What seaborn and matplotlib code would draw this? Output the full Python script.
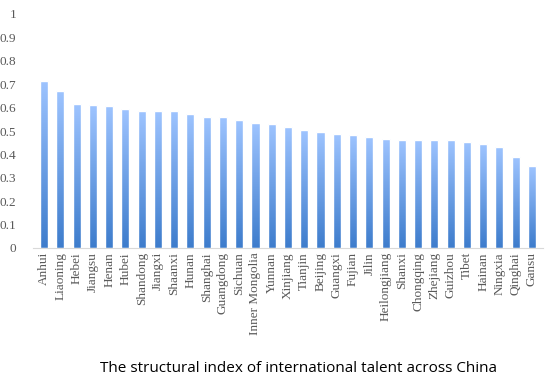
import matplotlib
matplotlib.use("Agg")
import matplotlib.pyplot as plt
import seaborn as sns
import numpy as np
import pandas as pd

provinces = ["Anhui", "Liaoning", "Hebei", "Jiangsu", "Henan", "Hubei", "Shandong",
             "Jiangxi", "Shaanxi", "Hunan", "Shanghai", "Guangdong", "Sichuan",
             "Inner Mongolia", "Yunnan", "Xinjiang", "Tianjin", "Beijing", "Guangxi",
             "Fujian", "Jilin", "Heilongjiang", "Shanxi", "Chongqing", "Zhejiang",
             "Guizhou", "Tibet", "Hainan", "Ningxia", "Qinghai", "Gansu"]
index_values = [0.714, 0.671, 0.615, 0.611, 0.607, 0.594, 0.585,
                0.585, 0.585, 0.573, 0.560, 0.560, 0.547,
                0.534, 0.530, 0.517, 0.504, 0.496, 0.487,
                0.483, 0.474, 0.466, 0.462, 0.462, 0.462,
                0.462, 0.453, 0.444, 0.432, 0.389, 0.350]
y_ticks = [0, 0.1, 0.2, 0.3, 0.4, 0.5, 0.6, 0.7, 0.8, 0.9, 1]

df = pd.DataFrame({"province": provinces, "value": index_values})

sns.set_style("white")
fig = plt.figure(figsize=(5.53, 3.92), dpi=100)
ax = fig.add_axes([33 / 553, 144 / 392, 510 / 553, 234 / 392])

sns.barplot(data=df, x="province", y="value", color="#6fa0e8", width=0.5, ax=ax,
            saturation=1)

# vertical gradient fill for each bar
grad = np.linspace(0, 1, 256).reshape(-1, 1)
cmap = matplotlib.colors.LinearSegmentedColormap.from_list("bar", ["#3d7ccc", "#9ec4ff"])
for p in ax.patches:
    x0, y0 = p.get_x(), p.get_y()
    w, h = p.get_width(), p.get_height()
    # soft shadow on the right
    ax.add_patch(plt.Rectangle((x0 + 0.06, y0), w, h - 0.003, color="#dedede",
                               zorder=1, lw=0))
    p.set_facecolor("none")
    p.set_zorder(3)
    im = ax.imshow(grad, extent=[x0, x0 + w, y0, y0 + h], origin="lower",
                   cmap=cmap, aspect="auto", zorder=2)
    im.set_clip_path(p)

ax.set_xlim(-0.68, 30.68)
ax.set_ylim(0, 1)
ax.set_yticks(y_ticks)
ax.set_yticklabels([f"{t:g}" for t in y_ticks], family="Liberation Serif",
                   fontsize=9.5, color="#595959")
ax.set_xticks(range(len(provinces)))
ax.set_xticklabels(provinces, rotation=90, family="Liberation Serif",
                   fontsize=9.5, color="#595959")
ax.tick_params(axis="both", length=0, pad=3)
ax.tick_params(axis="y", pad=12)
ax.set_xlabel("")
ax.set_ylabel("")
for s in ["top", "right", "left"]:
    ax.spines[s].set_visible(False)
ax.spines["bottom"].set_color("#d9d9d9")
ax.spines["bottom"].set_linewidth(0.8)

fig.text(299 / 553, 1 - 368 / 392, "The structural index of international talent across China",
         ha="center", va="center", family="Open Sans", fontsize=11, color="black")

fig.savefig("out.png", dpi=100)
